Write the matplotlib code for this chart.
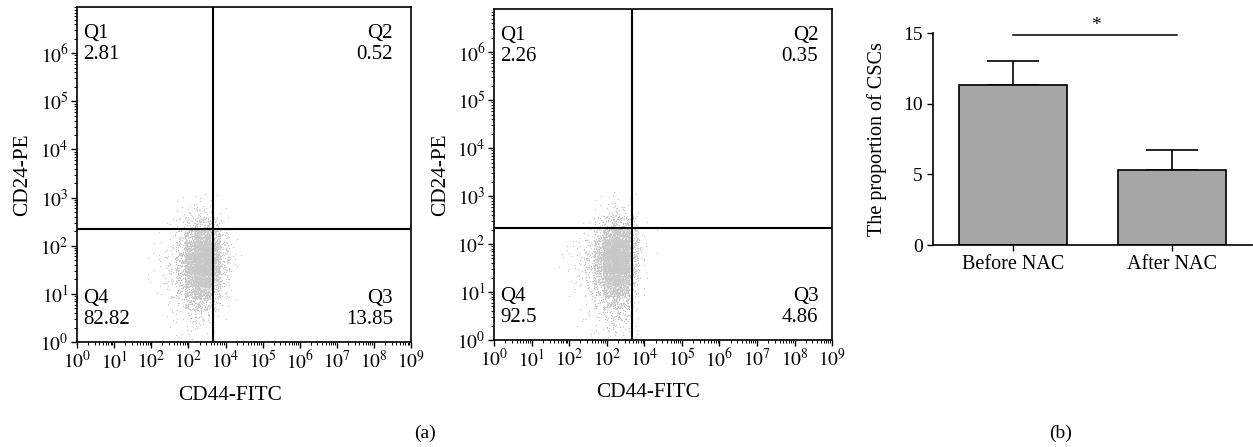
import numpy as np
import matplotlib
matplotlib.use("Agg")
import matplotlib.pyplot as plt
from matplotlib.ticker import LogLocator, NullFormatter

plt.rcParams['font.family'] = ['Liberation Serif', 'DejaVu Serif']
plt.rcParams['mathtext.fontset'] = 'stix'

# Flow cytometry panels: quadrant percentages (Q1, Q2, Q3, Q4)
quad_before = [2.81, 0.52, 13.85, 82.82]
quad_after = [2.26, 0.35, 4.86, 92.5]

# gate positions in log10 units (x, y)
gate_before = [3.655, 2.345]
gate_after = [3.675, 2.33]

x_tick_labels = [r'$10^{0}$', r'$10^{1}$', r'$10^{2}$', r'$10^{2}$', r'$10^{4}$',
                 r'$10^{5}$', r'$10^{6}$', r'$10^{7}$', r'$10^{8}$', r'$10^{9}$']
y_tick_labels = [r'$10^{%d}$' % k for k in range(7)]

# point density of the cloud on a 0.25-decade grid
# columns: log10(CD44) from 1.5 to 4.75, rows: log10(CD24) from 3.25 down to 0
cloud_before = [
    [0, 0, 0, 0, 0, 0, 0, 1, 0, 0, 0, 0, 0],
    [0, 0, 0, 0, 0, 1, 2, 2, 1, 0, 0, 0, 0],
    [0, 0, 0, 0, 1, 3, 6, 8, 4, 1, 0, 0, 0],
    [0, 0, 0, 0, 2, 6, 20, 35, 18, 4, 1, 0, 0],
    [0, 0, 0, 1, 3, 15, 60, 100, 60, 12, 2, 0, 0],
    [0, 0, 1, 2, 6, 25, 100, 160, 100, 20, 3, 0, 0],
    [0, 1, 1, 2, 8, 30, 110, 170, 100, 20, 3, 1, 0],
    [0, 0, 1, 2, 8, 28, 95, 140, 75, 15, 2, 0, 0],
    [0, 0, 1, 2, 6, 20, 60, 90, 40, 8, 1, 0, 0],
    [0, 0, 0, 1, 3, 10, 30, 40, 15, 3, 1, 0, 0],
    [0, 0, 0, 1, 1, 4, 10, 10, 4, 1, 0, 0, 0],
    [0, 0, 0, 0, 1, 2, 3, 3, 1, 0, 0, 0, 0],
    [0, 0, 0, 0, 0, 1, 1, 0, 0, 0, 0, 0, 0],
]
cloud_after = [
    [0, 0, 0, 0, 0, 0, 1, 0, 0, 0, 0, 0, 0],
    [0, 0, 0, 0, 0, 1, 2, 2, 1, 0, 0, 0, 0],
    [0, 0, 0, 0, 1, 2, 6, 8, 4, 0, 0, 0, 0],
    [0, 0, 0, 1, 2, 8, 25, 40, 12, 1, 0, 0, 0],
    [0, 0, 1, 2, 6, 30, 90, 120, 35, 3, 1, 0, 0],
    [0, 1, 1, 4, 15, 60, 140, 170, 45, 4, 1, 0, 0],
    [0, 1, 2, 5, 18, 65, 150, 170, 40, 4, 0, 0, 0],
    [0, 1, 1, 4, 15, 55, 120, 130, 28, 3, 0, 0, 0],
    [0, 0, 1, 3, 10, 30, 75, 80, 15, 1, 0, 0, 0],
    [0, 0, 1, 1, 4, 14, 35, 40, 8, 1, 0, 0, 0],
    [0, 0, 0, 1, 2, 6, 15, 15, 4, 0, 0, 0, 0],
    [0, 0, 0, 1, 1, 3, 8, 8, 2, 0, 0, 0, 0],
    [0, 0, 0, 0, 1, 2, 4, 4, 2, 0, 0, 0, 0],
]
grid_x0, grid_ytop, cell = 1.5, 3.25, 0.25

# Bar chart
groups = ['Before NAC', 'After NAC']
means = [11.3, 5.3]
errs = [1.75, 1.4]
sig_y = 14.9


def halton(i, b):
    f, r = 1.0, 0.0
    while i > 0:
        f /= b
        r += f * (i % b)
        i //= b
    return r


def cloud_xy(counts, per_count=2, spread=1.8):
    # spread each cell's count over the cell with a low-discrepancy pattern
    xs, ys = [], []
    k = 0
    for i, row in enumerate(counts):
        yc = grid_ytop - (i + 0.5) * cell
        for j, n in enumerate(row):
            xc = grid_x0 + (j + 0.5) * cell
            for _ in range(n * per_count):
                k += 1
                xs.append(xc + (halton(k, 3) - 0.5) * cell * spread)
                ys.append(yc + (halton(k, 5) - 0.5) * cell * spread)
    return 10 ** np.array(xs), 10 ** np.array(ys)


def flow_panel(ax, counts, quad, gate, ytop, qright, ylab_x):
    x, y = cloud_xy(counts)
    ax.scatter(x, y, s=1.0, c='#c8c8c8', linewidths=0, zorder=1)
    ax.set_xscale('log')
    ax.set_yscale('log')
    ax.set_xlim(1, 1e9)
    ax.set_ylim(1, 10 ** ytop)
    ax.axvline(10 ** gate[0], color='black', lw=1.5, zorder=3)
    ax.axhline(10 ** gate[1], color='black', lw=1.5, zorder=3)
    for s in ax.spines.values():
        s.set_linewidth(1.2)
    ax.set_xticks(10.0 ** np.arange(10))
    ax.set_xticklabels(x_tick_labels)
    ax.set_yticks(10.0 ** np.arange(7))
    ax.set_yticklabels(y_tick_labels)
    ax.xaxis.set_minor_locator(LogLocator(base=10, subs=np.arange(2, 10), numticks=20))
    ax.yaxis.set_minor_locator(LogLocator(base=10, subs=np.arange(2, 10), numticks=20))
    ax.xaxis.set_minor_formatter(NullFormatter())
    ax.yaxis.set_minor_formatter(NullFormatter())
    ax.tick_params(which='major', length=4, width=1, labelsize=14, pad=2)
    ax.tick_params(which='minor', length=2, width=0.7)
    kw = dict(transform=ax.transAxes, fontsize=15, linespacing=1.15)
    ax.text(0.018, 0.95, 'Q1\n%.2f' % quad[0], ha='left', va='top', **kw)
    ax.text(qright, 0.95, 'Q2\n%.2f' % quad[1], ha='right', va='top', **kw)
    ax.text(qright, 0.04, 'Q3\n%.2f' % quad[2], ha='right', va='bottom', **kw)
    ax.text(0.018, 0.04, 'Q4\n%s' % ('%g' % quad[3]), ha='left', va='bottom', **kw)
    ax.set_xlabel('CD44-FITC', fontsize=15.3)
    ax.set_ylabel('CD24-PE', fontsize=15.3)
    ax.xaxis.set_label_coords(0.457, -0.13)
    ax.yaxis.set_label_coords(ylab_x, 0.5)


fig = plt.figure(figsize=(12.53, 4.47), dpi=100)
ax1 = fig.add_axes([0.0615, 0.2349, 0.2666, 0.7494])
ax2 = fig.add_axes([0.3943, 0.2394, 0.2698, 0.7405])
ax3 = fig.add_axes([0.7446, 0.4519, 0.2546, 0.474])

flow_panel(ax1, cloud_before, quad_before, gate_before, 6.96, 0.946, -0.135)
flow_panel(ax2, cloud_after, quad_after, gate_after, 6.9, 0.959, -0.13)

pos = np.arange(len(groups))
ax3.bar(pos, means, width=0.68, color='#a6a6a6', edgecolor='black', linewidth=1.2, zorder=2)
ax3.errorbar(pos, means, yerr=[[0, 0], errs], fmt='none', ecolor='black',
             elinewidth=1.2, capsize=19, capthick=1.2, zorder=1)
ax3.plot([pos[0], pos[1] + 0.03], [sig_y, sig_y], color='black', lw=1.1, clip_on=False)
ax3.text((pos[0] + pos[1]) / 2 + 0.02, sig_y + 0.05, '*', ha='center', va='bottom', fontsize=14)
ax3.set_xlim(-0.5, 1.5)
ax3.set_ylim(0, 15)
ax3.set_yticks([0, 5, 10, 15])
ax3.set_xticks(pos)
ax3.set_xticklabels(groups, fontsize=14.5)
ax3.tick_params(axis='y', labelsize=14, length=4, width=1)
ax3.tick_params(axis='x', length=4, width=1)
ax3.spines['top'].set_visible(False)
ax3.spines['right'].set_visible(False)
ax3.spines['left'].set_linewidth(1.2)
ax3.spines['bottom'].set_linewidth(1.2)
ax3.set_ylabel('The proportion of CSCs', fontsize=14.5)
ax3.yaxis.set_label_coords(-0.145, 0.5)

fig.text(425 / 1253, 1 - 433 / 447, '(a)', ha='center', va='center', fontsize=14)
fig.text(1061 / 1253, 1 - 433 / 447, '(b)', ha='center', va='center', fontsize=14)

fig.savefig('out.png', dpi=100)
